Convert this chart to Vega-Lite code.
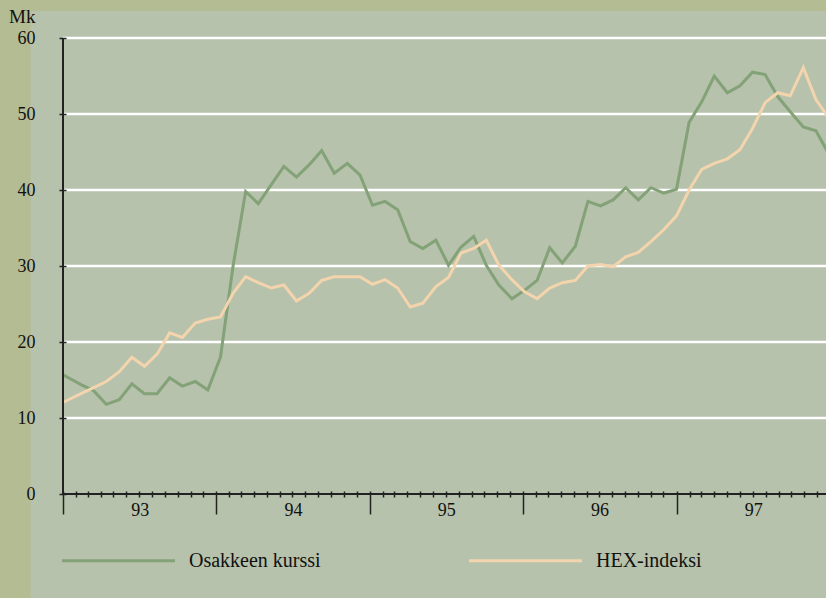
{
  "$schema": "https://vega.github.io/schema/vega-lite/v6.json",
  "width": 763,
  "height": 456,
  "autosize": {"type": "none"},
  "padding": {"left": 63, "top": 38, "right": 0, "bottom": 104},
  "background": "#b6c2ab",
  "config": {"view": {"stroke": null}},
  "datasets": {
    "kurssit": [
      {"pvm": "1992-12-15", "Osakkeen kurssi": 16.2, "HEX-indeksi": 11.6},
      {"pvm": "1993-01-14", "Osakkeen kurssi": 15.3, "HEX-indeksi": 12.4},
      {"pvm": "1993-02-13", "Osakkeen kurssi": 14.4, "HEX-indeksi": 13.2},
      {"pvm": "1993-03-15", "Osakkeen kurssi": 13.6, "HEX-indeksi": 14.0},
      {"pvm": "1993-04-14", "Osakkeen kurssi": 11.8, "HEX-indeksi": 14.8},
      {"pvm": "1993-05-15", "Osakkeen kurssi": 12.4, "HEX-indeksi": 16.1},
      {"pvm": "1993-06-14", "Osakkeen kurssi": 14.5, "HEX-indeksi": 18.0},
      {"pvm": "1993-07-14", "Osakkeen kurssi": 13.2, "HEX-indeksi": 16.8},
      {"pvm": "1993-08-13", "Osakkeen kurssi": 13.2, "HEX-indeksi": 18.4},
      {"pvm": "1993-09-12", "Osakkeen kurssi": 15.3, "HEX-indeksi": 21.2},
      {"pvm": "1993-10-12", "Osakkeen kurssi": 14.2, "HEX-indeksi": 20.6},
      {"pvm": "1993-11-12", "Osakkeen kurssi": 14.8, "HEX-indeksi": 22.5},
      {"pvm": "1993-12-12", "Osakkeen kurssi": 13.7, "HEX-indeksi": 23.0},
      {"pvm": "1994-01-11", "Osakkeen kurssi": 18.0, "HEX-indeksi": 23.3},
      {"pvm": "1994-02-10", "Osakkeen kurssi": 30.0, "HEX-indeksi": 26.4},
      {"pvm": "1994-03-12", "Osakkeen kurssi": 39.8, "HEX-indeksi": 28.6},
      {"pvm": "1994-04-11", "Osakkeen kurssi": 38.2, "HEX-indeksi": 27.8},
      {"pvm": "1994-05-12", "Osakkeen kurssi": 40.7, "HEX-indeksi": 27.1},
      {"pvm": "1994-06-11", "Osakkeen kurssi": 43.1, "HEX-indeksi": 27.5},
      {"pvm": "1994-07-11", "Osakkeen kurssi": 41.7, "HEX-indeksi": 25.4},
      {"pvm": "1994-08-10", "Osakkeen kurssi": 43.3, "HEX-indeksi": 26.4},
      {"pvm": "1994-09-09", "Osakkeen kurssi": 45.2, "HEX-indeksi": 28.1},
      {"pvm": "1994-10-09", "Osakkeen kurssi": 42.2, "HEX-indeksi": 28.6},
      {"pvm": "1994-11-09", "Osakkeen kurssi": 43.5, "HEX-indeksi": 28.6},
      {"pvm": "1994-12-09", "Osakkeen kurssi": 42.0, "HEX-indeksi": 28.6},
      {"pvm": "1995-01-08", "Osakkeen kurssi": 38.0, "HEX-indeksi": 27.6},
      {"pvm": "1995-02-07", "Osakkeen kurssi": 38.5, "HEX-indeksi": 28.2},
      {"pvm": "1995-03-09", "Osakkeen kurssi": 37.4, "HEX-indeksi": 27.1},
      {"pvm": "1995-04-08", "Osakkeen kurssi": 33.2, "HEX-indeksi": 24.6},
      {"pvm": "1995-05-08", "Osakkeen kurssi": 32.3, "HEX-indeksi": 25.1},
      {"pvm": "1995-06-08", "Osakkeen kurssi": 33.4, "HEX-indeksi": 27.3},
      {"pvm": "1995-07-08", "Osakkeen kurssi": 30.1, "HEX-indeksi": 28.5},
      {"pvm": "1995-08-07", "Osakkeen kurssi": 32.5, "HEX-indeksi": 31.7},
      {"pvm": "1995-09-06", "Osakkeen kurssi": 33.9, "HEX-indeksi": 32.3},
      {"pvm": "1995-10-06", "Osakkeen kurssi": 30.1, "HEX-indeksi": 33.4},
      {"pvm": "1995-11-05", "Osakkeen kurssi": 27.5, "HEX-indeksi": 30.1},
      {"pvm": "1995-12-06", "Osakkeen kurssi": 25.7, "HEX-indeksi": 28.2},
      {"pvm": "1996-01-05", "Osakkeen kurssi": 26.8, "HEX-indeksi": 26.6},
      {"pvm": "1996-02-04", "Osakkeen kurssi": 28.1, "HEX-indeksi": 25.7},
      {"pvm": "1996-03-05", "Osakkeen kurssi": 32.4, "HEX-indeksi": 27.1},
      {"pvm": "1996-04-04", "Osakkeen kurssi": 30.4, "HEX-indeksi": 27.8},
      {"pvm": "1996-05-05", "Osakkeen kurssi": 32.6, "HEX-indeksi": 28.1},
      {"pvm": "1996-06-04", "Osakkeen kurssi": 38.5, "HEX-indeksi": 30.0},
      {"pvm": "1996-07-04", "Osakkeen kurssi": 37.9, "HEX-indeksi": 30.2},
      {"pvm": "1996-08-03", "Osakkeen kurssi": 38.7, "HEX-indeksi": 29.9},
      {"pvm": "1996-09-02", "Osakkeen kurssi": 40.3, "HEX-indeksi": 31.2},
      {"pvm": "1996-10-02", "Osakkeen kurssi": 38.7, "HEX-indeksi": 31.8},
      {"pvm": "1996-11-01", "Osakkeen kurssi": 40.3, "HEX-indeksi": 33.2},
      {"pvm": "1996-12-02", "Osakkeen kurssi": 39.6, "HEX-indeksi": 34.8},
      {"pvm": "1997-01-01", "Osakkeen kurssi": 40.1, "HEX-indeksi": 36.6},
      {"pvm": "1997-01-31", "Osakkeen kurssi": 48.9, "HEX-indeksi": 40.0},
      {"pvm": "1997-03-02", "Osakkeen kurssi": 51.6, "HEX-indeksi": 42.7},
      {"pvm": "1997-04-01", "Osakkeen kurssi": 55.0, "HEX-indeksi": 43.5},
      {"pvm": "1997-05-02", "Osakkeen kurssi": 52.8, "HEX-indeksi": 44.1},
      {"pvm": "1997-06-01", "Osakkeen kurssi": 53.7, "HEX-indeksi": 45.3},
      {"pvm": "1997-07-01", "Osakkeen kurssi": 55.5, "HEX-indeksi": 48.1},
      {"pvm": "1997-07-31", "Osakkeen kurssi": 55.2, "HEX-indeksi": 51.5},
      {"pvm": "1997-08-30", "Osakkeen kurssi": 52.3, "HEX-indeksi": 52.8},
      {"pvm": "1997-09-29", "Osakkeen kurssi": 50.3, "HEX-indeksi": 52.4},
      {"pvm": "1997-10-30", "Osakkeen kurssi": 48.3, "HEX-indeksi": 56.1},
      {"pvm": "1997-11-29", "Osakkeen kurssi": 47.8, "HEX-indeksi": 51.9},
      {"pvm": "1997-12-29", "Osakkeen kurssi": 44.8, "HEX-indeksi": 49.5}
    ],
    "ruudukko": [{"y": 10}, {"y": 20}, {"y": 30}, {"y": 40}, {"y": 50}, {"y": 60}],
    "tyhja": [{}]
  },
  "layer": [
    {
      "data": {"name": "tyhja"},
      "mark": {"type": "rect", "color": "#b4bc94", "clip": false},
      "encoding": {
        "x": {"datum": {"year": 1992, "month": 6, "date": 1, "utc": true}, "type": "temporal", "title": null},
        "x2": {"datum": {"year": 1992, "month": 10, "date": 16, "utc": true}},
        "y": {"datum": 80, "type": "quantitative"},
        "y2": {"datum": -20}
      }
    },
    {
      "data": {"name": "tyhja"},
      "mark": {"type": "rect", "color": "#b4bc94", "clip": false},
      "encoding": {
        "x": {"datum": {"year": 1992, "month": 6, "date": 1, "utc": true}, "type": "temporal", "title": null},
        "x2": {"datum": {"year": 1998, "month": 6, "date": 1, "utc": true}},
        "y": {"datum": 80, "type": "quantitative"},
        "y2": {"datum": 63.55}
      }
    },
    {
      "data": {"name": "ruudukko"},
      "mark": {"type": "rule", "color": "#ffffff", "strokeWidth": 2.5},
      "encoding": {
        "y": {"field": "y", "type": "quantitative"}
      }
    },
    {
      "data": {"name": "kurssit"},
      "transform": [{"fold": ["Osakkeen kurssi", "HEX-indeksi"], "as": ["sarja", "arvo"]}],
      "mark": {"type": "line", "strokeWidth": 3, "clip": true},
      "encoding": {
        "x": {
          "field": "pvm", "type": "temporal", "title": null,
          "scale": {"type": "utc", "domain": [{"year": 1993, "month": 1, "date": 1, "utc": true}, {"year": 1997, "month": 12, "date": 23, "utc": true}], "nice": false},
          "axis": {
            "title": null,
            "zindex": 1,
            "domain": false,
            "grid": false,
            "offset": -3,
            "tickCount": {"interval": "month", "step": 1},
            "tickSize": {"condition": {"test": "utcmonth(datum.value) == 0", "value": 23}, "value": 6},
            "tickColor": "#222222",
            "tickWidth": 1.5,
            "labelExpr": "utcmonth(datum.value) == 0 ? utcFormat(datum.value, '%y') : ''",
            "labelOffset": 76.7,
            "labelPadding": -13,
            "labelFlush": false,
            "labelOverlap": false,
            "labelBound": false,
            "labelFont": "Liberation Serif",
            "labelFontSize": 18,
            "labelColor": "#111111"
          }
        },
        "y": {
          "field": "arvo", "type": "quantitative", "title": "Mk",
          "scale": {"domain": [0, 60], "nice": false, "zero": true},
          "axis": {
            "values": [0, 10, 20, 30, 40, 50, 60],
            "zindex": 1,
            "domain": false,
            "grid": false,
            "offset": -3,
            "tickSize": 7,
            "tickColor": "#222222",
            "tickWidth": 1.5,
            "labelPadding": 24,
            "labelFont": "Liberation Serif",
            "labelFontSize": 18,
            "labelColor": "#111111",
            "title": "Mk",
            "titleAngle": 0,
            "titleAlign": "right",
            "titleBaseline": "alphabetic",
            "titleX": -31,
            "titleY": -15.3,
            "titleFont": "Liberation Serif",
            "titleFontSize": 19,
            "titleFontWeight": "normal",
            "titleColor": "#111111"
          }
        },
        "color": {
          "field": "sarja", "type": "nominal",
          "scale": {"domain": ["Osakkeen kurssi", "HEX-indeksi"], "range": ["#83a277", "#f3d4ad"]},
          "legend": {
            "title": null,
            "orient": "none",
            "legendX": -2.5,
            "legendY": 464.7,
            "direction": "horizontal",
            "columns": 2,
            "columnPadding": 141,
            "padding": 0,
            "symbolType": "stroke",
            "symbolSize": 12769,
            "symbolStrokeWidth": 3,
            "labelFont": "Liberation Serif",
            "labelFontSize": 20,
            "labelColor": "#111111",
            "labelOffset": 12.5,
            "labelLimit": 0
          }
        }
      }
    },
    {
      "data": {"name": "tyhja"},
      "mark": {"type": "rule", "color": "#222222", "strokeWidth": 2},
      "encoding": {
        "y": {"datum": 0, "type": "quantitative"}
      }
    },
    {
      "data": {"name": "tyhja"},
      "mark": {"type": "rule", "color": "#222222", "strokeWidth": 2},
      "encoding": {
        "x": {"datum": {"year": 1993, "month": 1, "date": 1, "utc": true}, "type": "temporal", "title": null}
      }
    }
  ]
}
